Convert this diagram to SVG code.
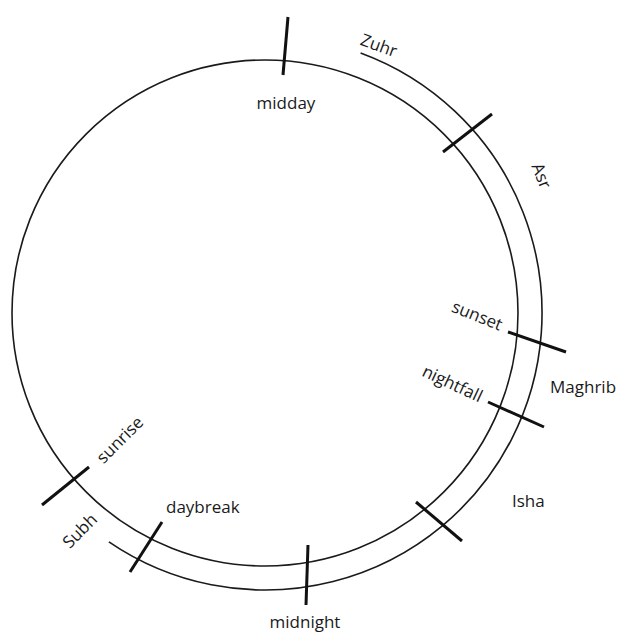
<svg xmlns="http://www.w3.org/2000/svg" width="617" height="634" viewBox="0 0 617 634">
<style>
.ring{fill:none;stroke:#1a1a1a;stroke-width:1.6}
.tick{stroke:#111;stroke-width:3;stroke-linecap:butt}
text{font-family:"Open Sans","Liberation Sans",sans-serif;font-size:17px;fill:#1a1a1a}
</style>
<rect width="617" height="634" fill="#fff"/>
<g id="day-circle"><circle class="ring" cx="265" cy="313" r="253"/></g>
<g id="prayer-arc"><path class="ring" d="M360.6,53 A277,277 0 1 1 108.9,541.8"/></g>
<g id="ticks">
<line class="tick" x1="288" y1="17" x2="283" y2="75"/>
<line class="tick" x1="492" y1="114" x2="443" y2="152"/>
<line class="tick" x1="508" y1="332" x2="566" y2="352"/>
<line class="tick" x1="488" y1="402" x2="544" y2="427"/>
<line class="tick" x1="416" y1="502" x2="462" y2="541"/>
<line class="tick" x1="308" y1="545" x2="306" y2="605"/>
<line class="tick" x1="89" y1="467" x2="42" y2="505"/>
<line class="tick" x1="162" y1="522" x2="130" y2="572"/>
</g>
<g id="labels">
<text x="286" y="109" text-anchor="middle">midday</text>
<text x="305" y="628" text-anchor="middle">midnight</text>
<text x="550" y="393" font-size="16">Maghrib</text>
<text x="512" y="507">Isha</text>
<text x="166" y="513">daybreak</text>
<text transform="translate(377,51) rotate(20)" text-anchor="middle">Zuhr</text>
<text transform="translate(536,178) rotate(68)" text-anchor="middle">Asr</text>
<text transform="translate(475,321) rotate(22)" text-anchor="middle">sunset</text>
<text transform="translate(450,389) rotate(25)" text-anchor="middle">nightfall</text>
<text transform="translate(124,444) rotate(-45)" text-anchor="middle">sunrise</text>
<text transform="translate(84,535) rotate(-45)" text-anchor="middle">Subh</text>
</g>
</svg>
